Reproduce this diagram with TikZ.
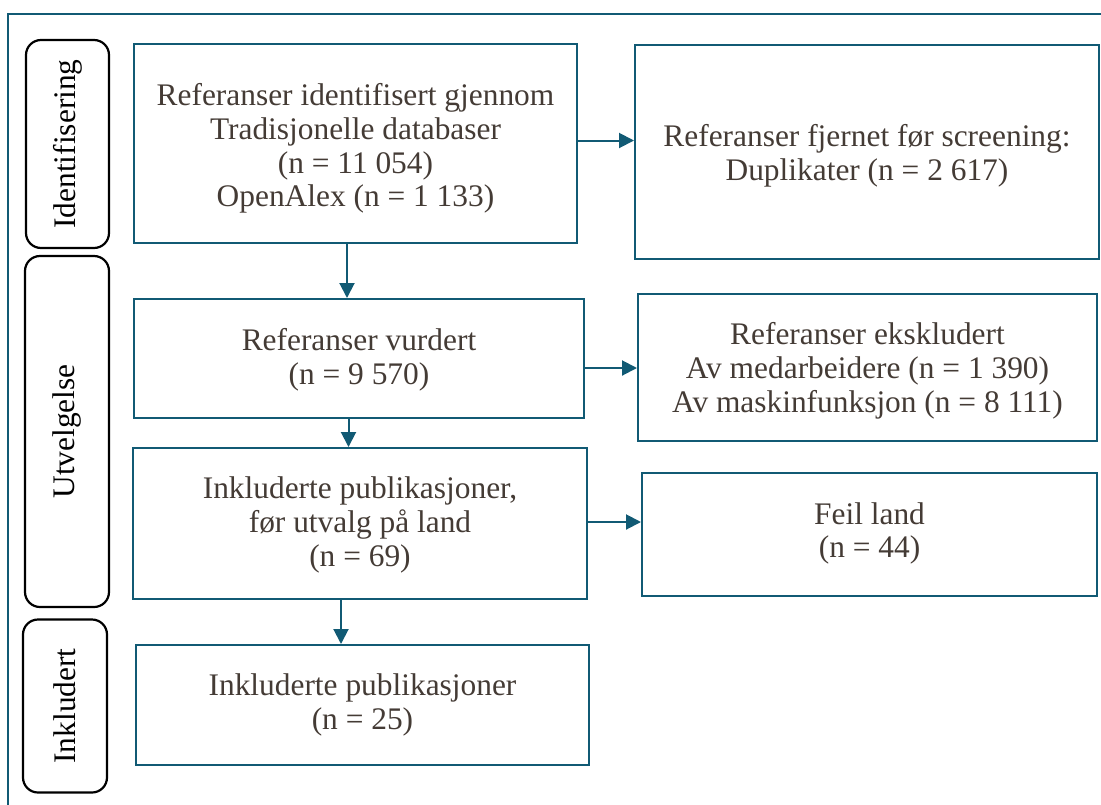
\documentclass[tikz,border=0pt]{standalone}
\usepackage{fontspec}
\setmainfont{Liberation Serif}
\usetikzlibrary{arrows.meta}
\definecolor{teal1}{HTML}{115A74}
\definecolor{txt}{HTML}{443B35}
\tikzset{
  box/.style={draw=teal1, line width=2pt, inner sep=0pt},
  boxtext/.style={align=center, text=txt, inner sep=0pt,
    font=\fontsize{31.4}{33.8}\selectfont},
  side/.style={draw=black, line width=2.2pt, rounded corners=15pt, inner sep=0pt},
  sidetext/.style={rotate=90, text=black, font=\fontsize{31.4}{34}\selectfont, inner sep=0pt},
  arr/.style={draw=teal1, line width=2pt, -{Triangle[length=15pt,width=15pt]}},
  frame/.style={draw=teal1, line width=2pt}
}
\begin{document}
\begin{tikzpicture}[x=1pt,y=-1pt]
\useasboundingbox (0,0) rectangle (1101,804);
\draw[frame] (8,820) -- (8,14) -- (1120,14);
% side labels
\node[side, minimum width=83pt, minimum height=208pt] (s1) at (67.5,144) {};
\node[sidetext] (t1) at (s1.center) {Identifisering};
\node[side, minimum width=84pt, minimum height=351pt] (s2) at (67,431.5) {};
\node[sidetext] (t2) at (s2.center) {Utvelgelse};
\node[side, minimum width=84pt, minimum height=173pt] (s3) at (65,706) {};
\node[sidetext] (t3) at (s3.center) {Inkludert};
% main boxes
\node[box, minimum width=443pt, minimum height=199pt] (b1) at (355.5,143.5) {};
\node[boxtext] (b1t) at ([yshift=-5pt]b1.center)
  {Referanser identifisert gjennom\\Tradisjonelle databaser\\(n = 11 054)\\OpenAlex (n = 1 133)};
\node[box, minimum width=464pt, minimum height=214pt] (b2) at (867,152) {};
\node[boxtext] (b2t) at ([yshift=-4pt]b2.center)
  {Referanser fjernet før screening:\\Duplikater (n = 2 617)};
\node[box, minimum width=450pt, minimum height=119pt] (b3) at (359,358.5) {};
\node[boxtext] (b3t) at ([yshift=-1.5pt]b3.center)
  {Referanser vurdert\\(n = 9 570)};
\node[box, minimum width=459pt, minimum height=147pt] (b5) at (867.5,367.5) {};
\node[boxtext] (b5t) at ([yshift=-3pt]b5.center)
  {Referanser ekskludert\\Av medarbeidere (n = 1 390)\\Av maskinfunksjon (n = 8 111)};
\node[box, minimum width=454pt, minimum height=151pt] (b4) at (360,523.5) {};
\node[boxtext] (b4t) at ([yshift=-1.5pt]b4.center)
  {Inkluderte publikasjoner,\\før utvalg på land\\(n = 69)};
\node[box, minimum width=455pt, minimum height=123pt] (b6) at (869.5,534.5) {};
\node[boxtext] (b6t) at ([yshift=1pt]b6.center)
  {Feil land\\(n = 44)};
\node[box, minimum width=453pt, minimum height=120pt] (b7) at (362.5,705) {};
\node[boxtext] (b7t) at (b7.center)
  {Inkluderte publikasjoner\\(n = 25)};
% arrows
\draw[arr] ([yshift=3pt]b1.east) -- ([yshift=3pt]b1.east -| b2.west);
\draw[arr] ([xshift=-8.5pt]b1.south) -- ([xshift=-8.5pt]b1.south |- b3.north);
\draw[arr] ([yshift=-9.5pt]b3.east) -- ([yshift=-9.5pt]b3.east -| b5.west);
\draw[arr] ([xshift=-10.5pt]b3.south) -- ([xshift=-10.5pt]b3.south |- b4.north);
\draw[arr] ([yshift=1.5pt]b4.east) -- ([yshift=1.5pt]b4.east -| b6.west);
\draw[arr] ([xshift=-19pt]b4.south) -- ([xshift=-19pt]b4.south |- b7.north);
\end{tikzpicture}
\end{document}
